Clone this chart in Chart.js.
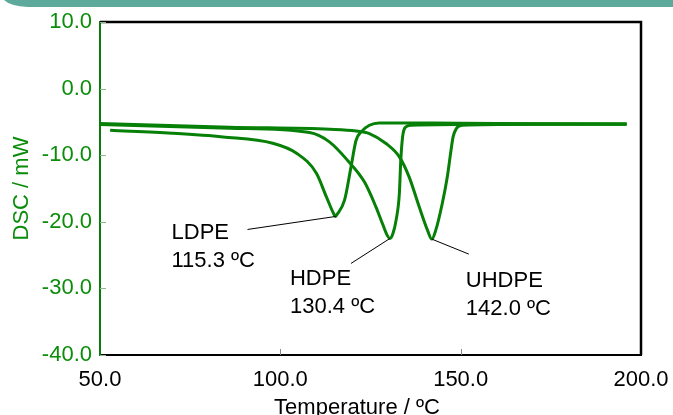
<!DOCTYPE html>
<html>
<head>
<meta charset="utf-8">
<script src="https://cdn.jsdelivr.net/npm/chart.js@4.4.0/dist/chart.umd.min.js"></script>
<style>
  html, body { margin: 0; padding: 0; background: #fff; }
  canvas { display: block; }
</style>
</head>
<body>
<canvas id="dscChart" width="673" height="415"></canvas>
<script>
// DSC melting curves, temperature in ºC and heat flow in mW
var ldpeTemp = [52.8, 70, 84.1, 97.9, 104.5, 110.0, 112.8, 115.0, 115.3, 115.6, 117.8, 119.6, 121.0, 122.4, 124.7, 127.4, 150, 196];
var ldpeDsc  = [-6.25, -6.7, -7.26, -8.2, -9.7, -12.7, -16.3, -19.0, -19.2, -19.0, -16.75, -11.75, -7.75, -6.5, -5.5, -5.15, -5.2, -5.3];

var hdpeTemp = [50, 86, 108.1, 113.6, 118.6, 123.3, 126.5, 128.3, 129.6, 130.4, 131.2, 132.1, 133.0, 133.4, 133.9, 134.6, 136.2, 160, 196];
var hdpeDsc  = [-5.4, -5.95, -6.6, -8.0, -10.75, -14.0, -17.75, -20.25, -22.0, -22.5, -21.8, -19.75, -15.75, -10.75, -7.25, -5.85, -5.5, -5.35, -5.35];

var uhdpeTemp = [50, 85.9, 113.7, 121.0, 124.7, 129.3, 133.0, 135.7, 138.5, 140.8, 142.0, 143.1, 144.9, 146.3, 147.2, 147.9, 148.8, 150.4, 170, 196];
var uhdpeDsc  = [-5.25, -5.8, -6.1, -6.35, -6.75, -8.25, -10.25, -13.25, -17.75, -21.25, -22.6, -21.25, -17.25, -13.25, -9.75, -7.25, -6.0, -5.5, -5.35, -5.3];

var peakNames = ['LDPE', 'HDPE', 'UHDPE'];
var peakTemps = [115.3, 130.4, 142.0];
var peakDsc   = [-19.2, -22.5, -22.6];

var xTicks = [50, 100, 150, 200];
var yTicks = [10, 0, -10, -20, -30, -40];

var lineGreen = '#078007';
var textGreen = '#0b8d0b';
var font22 = { family: '"Liberation Sans", Arial, sans-serif', size: 22 };

function toPoints(temps, values) {
  return temps.map(function (t, i) { return { x: t, y: values[i] }; });
}

// pixel offsets of leader line end and label, relative to each peak
var labelOffsets = [
  { lx: -88, ly: 13, tx: -164, ty: 23 },
  { lx: -39, ly: 25, tx: -100, ty: 47 },
  { lx: 37, ly: 15, tx: 34, ty: 48 }
];

var decorations = {
  id: 'decorations',
  beforeDraw: function (chart) {
    var ctx = chart.ctx;
    ctx.save();
    ctx.fillStyle = '#5daa9c';
    ctx.beginPath();
    ctx.moveTo(4, 0);
    ctx.lineTo(673, 0);
    ctx.lineTo(673, 7);
    ctx.lineTo(28, 7);
    ctx.quadraticCurveTo(10, 6, 4, 0);
    ctx.fill();
    ctx.restore();
  },
  afterDraw: function (chart) {
    var ctx = chart.ctx, a = chart.chartArea;
    var xs = chart.scales.x, ys = chart.scales.y;
    ctx.save();

    // top and right frame
    ctx.strokeStyle = '#000';
    ctx.lineWidth = 2.5;
    ctx.beginPath();
    ctx.moveTo(a.left, a.top);
    ctx.lineTo(a.right, a.top);
    ctx.lineTo(a.right, a.bottom);
    ctx.stroke();

    // inward tick marks
    ctx.lineWidth = 1;
    ctx.strokeStyle = '#8fb88f';
    yTicks.forEach(function (v) {
      var y = Math.round(ys.getPixelForValue(v)) + 0.5;
      ctx.beginPath();
      ctx.moveTo(a.left, y);
      ctx.lineTo(a.left + 6, y);
      ctx.stroke();
    });
    ctx.strokeStyle = '#888';
    xTicks.slice(1, -1).forEach(function (v) {
      var x = Math.round(xs.getPixelForValue(v)) + 0.5;
      ctx.beginPath();
      ctx.moveTo(x, a.bottom);
      ctx.lineTo(x, a.bottom - 6);
      ctx.stroke();
    });

    // peak labels
    ctx.font = '22px "Liberation Sans", Arial, sans-serif';
    ctx.fillStyle = '#000';
    ctx.textBaseline = 'alphabetic';
    ctx.textAlign = 'left';
    peakNames.forEach(function (name, i) {
      var px = xs.getPixelForValue(peakTemps[i]);
      var py = ys.getPixelForValue(peakDsc[i]);
      var o = labelOffsets[i];
      ctx.strokeStyle = '#000';
      ctx.lineWidth = 1;
      ctx.beginPath();
      ctx.moveTo(px, py);
      ctx.lineTo(px + o.lx, py + o.ly);
      ctx.stroke();
      ctx.fillText(name, px + o.tx, py + o.ty);
      ctx.fillText(peakTemps[i].toFixed(1) + ' ºC', px + o.tx, py + o.ty + 28);
    });

    // x axis title
    ctx.textAlign = 'center';
    ctx.fillText('Temperature / ºC', 357, 414);
    ctx.restore();
  }
};

new Chart(document.getElementById('dscChart').getContext('2d'), {
  type: 'line',
  data: {
    datasets: [
      { label: 'LDPE', data: toPoints(ldpeTemp, ldpeDsc) },
      { label: 'HDPE', data: toPoints(hdpeTemp, hdpeDsc) },
      { label: 'UHDPE', data: toPoints(uhdpeTemp, uhdpeDsc) }
    ]
  },
  options: {
    responsive: false,
    animation: false,
    devicePixelRatio: 1,
    layout: { padding: { top: 22, right: 32, left: 0, bottom: 0 } },
    elements: {
      point: { radius: 0 },
      line: { borderColor: lineGreen, borderWidth: 3, cubicInterpolationMode: 'monotone', fill: false }
    },
    plugins: { legend: { display: false }, tooltip: { enabled: false } },
    scales: {
      x: {
        type: 'linear',
        min: 50,
        max: 200,
        afterFit: function (s) { s.height = 60; s.paddingLeft = 0; s.paddingRight = 0; },
        grid: { display: false, drawTicks: false },
        border: { display: true, color: '#000', width: 2 },
        ticks: {
          stepSize: 50,
          padding: 12,
          color: '#000',
          font: font22,
          maxRotation: 0,
          callback: function (v) { return v.toFixed(1); }
        }
      },
      y: {
        min: -40,
        max: 10,
        afterFit: function (s) { s.width = 100; },
        grid: { display: false, drawTicks: false },
        border: { display: true, color: '#0a7a0a', width: 2 },
        title: { display: true, text: 'DSC / mW', color: textGreen, font: font22, padding: { top: 9, bottom: 0 } },
        ticks: {
          stepSize: 10,
          padding: 8,
          color: textGreen,
          font: font22,
          callback: function (v) { return v.toFixed(1); }
        }
      }
    }
  },
  plugins: [decorations]
});
</script>
</body>
</html>
